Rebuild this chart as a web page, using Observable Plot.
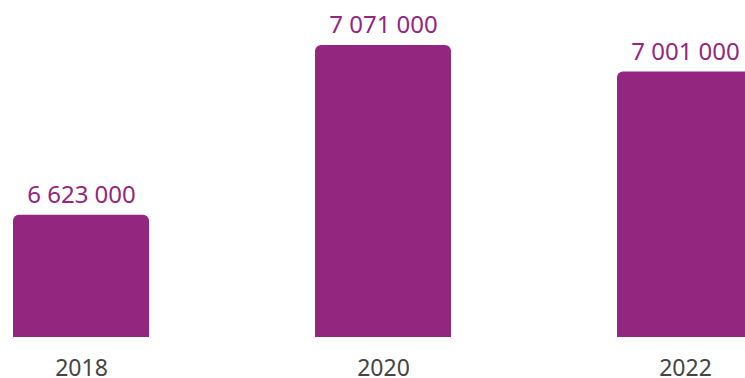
<!DOCTYPE html>
<html>
<head>
<meta charset="utf-8">
<script src="https://cdn.jsdelivr.net/npm/d3@7"></script>
<script src="https://cdn.jsdelivr.net/npm/@observablehq/plot@0.6"></script>
<style>
  html, body { margin: 0; padding: 0; background: #fff; overflow: hidden; width: 745px; height: 378px; }
  #chart svg { max-width: none !important; }
</style>
</head>
<body>
<div id="chart"></div>
<script>
const years = ["2018", "2020", "2022"];
const values = [6623000, 7071000, 7001000];
const valueLabels = ["6 623 000", "7 071 000", "7 001 000"];
const baseline = 6300000;

const data = years.map((y, i) => ({year: y, value: values[i], label: valueLabels[i], mid: (values[i] + baseline) / 2}));

const purple = "#93267f";

const chart = Plot.plot({
  width: 753,
  height: 378,
  marginLeft: 13,
  marginRight: 0,
  marginTop: 45,
  marginBottom: 41,
  style: {fontFamily: "'Noto Sans', sans-serif", background: "#fff", maxWidth: "none", overflow: "visible"},
  x: {domain: years, padding: 0.55, paddingOuter: 0, axis: null},
  y: {domain: [baseline, 7071000], axis: null},
  marks: [
    Plot.barY(data, {x: "year", y1: baseline, y2: "value", fill: purple, rx: 6}),
    Plot.barY(data, {x: "year", y1: baseline, y2: "mid", fill: purple}),
    Plot.text(data, {x: "year", y: "value", text: "label", dy: -20, fill: purple, fontSize: 24}),
    Plot.text(data, {x: "year", y: () => baseline, text: "year", dy: 31, fill: "#444", fontSize: 23})
  ]
});
document.getElementById("chart").appendChild(chart);
</script>
</body>
</html>
